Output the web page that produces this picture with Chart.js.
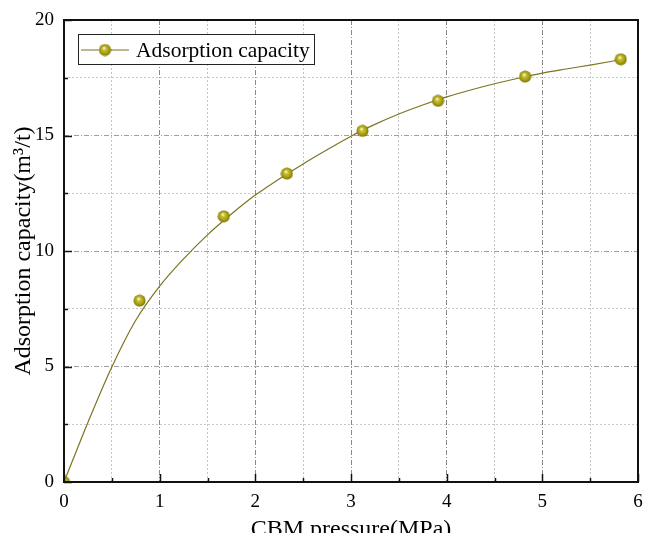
<!DOCTYPE html>
<html>
<head>
<meta charset="utf-8">
<script src="https://cdn.jsdelivr.net/npm/chart.js@4/dist/chart.umd.min.js"></script>
<style>
  html, body { margin: 0; padding: 0; background: #fff; overflow: hidden; }
  #wrap { width: 645px; height: 533px; }
</style>
</head>
<body>
<div id="wrap"><canvas id="chart"></canvas></div>
<script>
// measured points
const pressure = [0, 0.79, 1.67, 2.33, 3.12, 3.91, 4.82, 5.82];
const capacity = [0, 7.85, 11.5, 13.35, 15.2, 16.5, 17.55, 18.3];

// fitted curve
const curveX = [0, 0.25, 0.5, 0.75, 1, 1.25, 1.5, 1.75, 2, 2.25, 2.5, 2.75, 3, 3.25, 3.5, 3.75, 4, 4.25, 4.5, 4.75, 5, 5.25, 5.5, 5.82];
const curveY = [0, 2.58, 4.98, 7.0, 8.48, 9.66, 10.7, 11.6, 12.42, 13.12, 13.77, 14.38, 14.97, 15.48, 15.93, 16.32, 16.67, 16.97, 17.24, 17.48, 17.7, 17.88, 18.05, 18.28];

const xTicks = [0, 1, 2, 3, 4, 5, 6];
const yTicks = [0, 5, 10, 15, 20];

const serif = "'Liberation Serif', 'Times New Roman', serif";
const lineColor = '#7d7420';

// little shaded ball for the markers
function makeBall(r) {
    const c = document.createElement('canvas');
    c.width = c.height = r * 2 + 1;
    const g = c.getContext('2d');
    const cx = r + 0.5;
    const grad = g.createRadialGradient(cx - 1, cx - 2, 0.5, cx, cx, r);
    grad.addColorStop(0, '#fbf8dc');
    grad.addColorStop(0.25, '#c9c136');
    grad.addColorStop(0.7, '#a59e0c');
    grad.addColorStop(1, '#77700a');
    g.fillStyle = grad;
    g.beginPath();
    g.arc(cx, cx, r, 0, Math.PI * 2);
    g.fill();
    return c;
}
const ball = makeBall(6);

const isMajorX = v => xTicks.includes(v);
const isMajorY = v => yTicks.includes(v);

// frame, inward ticks, legend box
const framePlugin = {
    id: 'frame',
    afterDatasetsDraw(chart) {
        const { ctx, chartArea: a, scales } = chart;
        ctx.save();
        ctx.strokeStyle = '#111';
        ctx.lineWidth = 1.5;
        scales.x.ticks.forEach(t => {
            const px = Math.round(scales.x.getPixelForValue(t.value)) + 0.5;
            const len = isMajorX(t.value) ? 8 : 4;
            ctx.beginPath();
            ctx.moveTo(px, a.bottom);
            ctx.lineTo(px, a.bottom - len);
            ctx.stroke();
        });
        scales.y.ticks.forEach(t => {
            const py = Math.round(scales.y.getPixelForValue(t.value)) + 0.5;
            const len = isMajorY(t.value) ? 8 : 4;
            ctx.beginPath();
            ctx.moveTo(a.left, py);
            ctx.lineTo(a.left + len, py);
            ctx.stroke();
        });
        ctx.lineWidth = 2;
        ctx.strokeRect(a.left, a.top, a.right - a.left, a.bottom - a.top);

        // legend
        const bx = a.left + 14, by = a.top + 14;
        ctx.fillStyle = '#fff';
        ctx.fillRect(bx, by, 236, 30);
        ctx.lineWidth = 1;
        ctx.strokeStyle = '#222';
        ctx.strokeRect(bx + 0.5, by + 0.5, 236, 30);
        const ly = by + 16;
        ctx.strokeStyle = lineColor;
        ctx.lineWidth = 1.2;
        ctx.beginPath();
        ctx.moveTo(bx + 3, ly);
        ctx.lineTo(bx + 51, ly);
        ctx.stroke();
        ctx.drawImage(ball, bx + 27 - ball.width / 2, ly - ball.height / 2);
        ctx.fillStyle = '#000';
        ctx.font = '21.5px ' + serif;
        ctx.textBaseline = 'alphabetic';
        ctx.fillText(chart.data.datasets[0].label, bx + 58, ly + 7);
        ctx.restore();
    }
};

new Chart(document.getElementById('chart'), {
    data: {
        datasets: [
            {
                type: 'scatter',
                label: 'Adsorption capacity',
                data: pressure.map((p, i) => ({ x: p, y: capacity[i] })),
                pointStyle: ball,
                pointRadius: 6,
                pointHoverRadius: 6,
                clip: 0,
                order: 0
            },
            {
                type: 'line',
                label: 'fit',
                data: curveX.map((p, i) => ({ x: p, y: curveY[i] })),
                borderColor: lineColor,
                borderWidth: 1.2,
                pointRadius: 0,
                cubicInterpolationMode: 'monotone',
                fill: false,
                clip: 0,
                order: 1
            }
        ]
    },
    options: {
        responsive: true,
        maintainAspectRatio: false,
        animation: false,
        layout: { padding: { left: 0, top: 20, right: 1, bottom: 0 } },
        plugins: { legend: { display: false }, tooltip: { enabled: false } },
        scales: {
            x: {
                type: 'linear',
                min: 0,
                max: 6,
                afterFit: s => { s.height = 51; s.paddingLeft = 0; s.paddingRight = 0; },
                ticks: {
                    stepSize: 0.5,
                    autoSkip: false,
                    maxRotation: 0,
                    padding: 9,
                    color: '#000',
                    font: { family: serif, size: 19 },
                    callback: v => isMajorX(v) ? v : ''
                },
                grid: {
                    drawTicks: false,
                    lineWidth: 1,
                    color: c => isMajorX(c.tick.value) ? '#8a8a8a' : '#c4c4c4'
                },
                border: {
                    display: false,
                    dash: c => isMajorX(c.tick.value) ? [5, 2, 1, 2] : [2, 2]
                },
                title: {
                    display: true,
                    text: 'CBM pressure(MPa)',
                    color: '#000',
                    font: { family: serif, size: 24, lineHeight: 1 },
                    padding: { top: 0, bottom: -9 }
                }
            },
            y: {
                type: 'linear',
                min: 0,
                max: 20,
                afterFit: s => { s.width = 64; s.paddingTop = 0; s.paddingBottom = 0; },
                ticks: {
                    stepSize: 2.5,
                    autoSkip: false,
                    padding: 10,
                    color: '#000',
                    font: { family: serif, size: 19 },
                    callback: v => isMajorY(v) ? v : ''
                },
                grid: {
                    drawTicks: false,
                    lineWidth: 1,
                    color: c => isMajorY(c.tick.value) ? '#a0a0a0' : '#c8c8c8'
                },
                border: {
                    display: false,
                    dash: c => isMajorY(c.tick.value) ? [5, 2, 1, 2] : [2, 2]
                },
                title: {
                    display: true,
                    text: 'Adsorption capacity(m³/t)',
                    color: '#000',
                    font: { family: serif, size: 24, lineHeight: 1 },
                    padding: { top: 12, bottom: 0 }
                }
            }
        }
    },
    plugins: [framePlugin]
});
</script>
</body>
</html>
